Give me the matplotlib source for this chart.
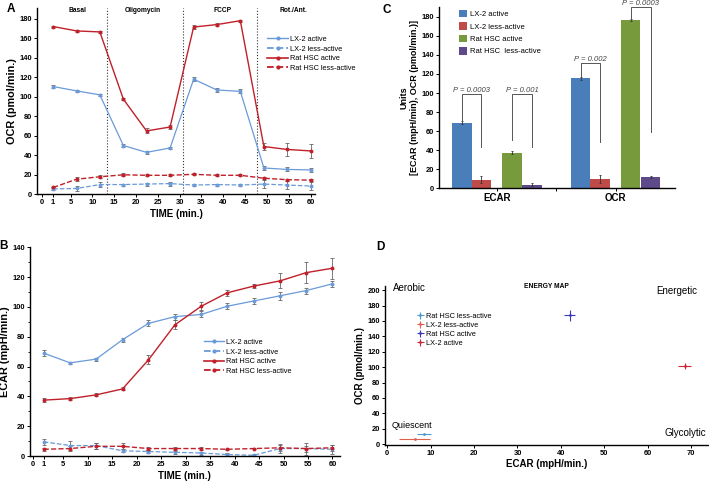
import matplotlib
matplotlib.use("Agg")
import matplotlib.pyplot as plt
from matplotlib.lines import Line2D
import numpy as np

plt.rcParams['font.family'] = ['Liberation Sans', 'DejaVu Sans']

# ---- data ----
time_min = [1, 6.4, 11.7, 17.1, 22.4, 27.8, 33.2, 38.5, 43.9, 49.3, 54.6, 60]

# panel A: OCR
ocr_lx2_active = [110.5, 106, 102, 50, 43, 47.5, 118, 107, 105.5, 27, 25.5, 25]
ocr_lx2_active_err = [2, 1, 1, 1.5, 1.5, 1.5, 2, 2, 2, 2, 2, 2]
ocr_lx2_less = [5.5, 6, 10, 10, 10.5, 11, 9.5, 10, 9.5, 10.5, 9.5, 8.5]
ocr_lx2_less_err = [1.5, 3, 2.5, 1, 1.5, 2, 1, 1, 1, 4, 4, 4]
ocr_rat_active = [172, 167.5, 166.5, 97.5, 65, 69, 171.5, 174, 178, 49, 46, 44.5]
ocr_rat_active_err = [1, 1, 1, 1, 2.5, 2.5, 2, 1.5, 1, 4, 7, 7]
ocr_rat_less = [7, 15.5, 18, 20, 19.5, 19.5, 20.5, 19.5, 19.5, 16.5, 15, 14.5]
ocr_rat_less_err = [1, 2, 1.5, 1.5, 1, 1, 1, 1, 1, 1, 1, 1]

phase_bounds = [13.4, 30.8, 47.8]
phase_names = ['Basal', 'Oligomycin', 'FCCP', 'Rot./Ant.']
phase_centers = [6.6, 21.6, 39.8, 56]

# panel B: ECAR
ecar_lx2_active = [69, 62.5, 65, 78, 89, 93.5, 95, 100.5, 104, 107.5, 111, 115.5]
ecar_lx2_active_err = [2, 0.5, 1, 1.5, 2, 2, 2, 2, 2, 2.5, 2, 2]
ecar_lx2_less = [9.5, 7, 7, 3.5, 3, 2.5, 2, 1, 0.5, 5, 5, 4.5]
ecar_lx2_less_err = [2, 3, 2, 1, 1, 1, 1, 1, 1, 3, 4, 3]
ecar_rat_active = [37.5, 38.5, 41, 45, 64.5, 88, 100.5, 109.5, 114, 117.5, 123, 126]
ecar_rat_active_err = [1.5, 1, 1, 1, 3, 3, 2.5, 2, 1.5, 5, 7, 7]
ecar_rat_less = [4.5, 5, 6.5, 6.5, 5, 5, 5, 4.5, 5, 5.5, 5, 5.5]
ecar_rat_less_err = [1, 1.5, 2, 2, 1, 1, 1, 0.5, 0.5, 2, 2, 2]

time_tick_labels = ['0', '1', '5', '10', '15', '20', '25', '30', '35', '40', '45', '50', '55', '60']
time_ticks = [0, 1, 5, 10, 15, 20, 25, 30, 35, 40, 45, 50, 55, 60]

# panel C: bars
groups = ['ECAR', 'OCR']
bar_labels = ['LX-2 active', 'LX-2 less-active', 'Rat HSC active', 'Rat HSC  less-active']
bar_values = [[69, 115.5], [9, 10], [37.5, 176.5], [4, 12]]
bar_errors = [[1.5, 1.5], [3.5, 4], [1.5, 1], [1.5, 1]]
bar_colors = ['#4A7EBB', '#BE4B48', '#779A3C', '#5E4A8A']
# brackets: group, left bar, right bar, top, left leg end, right leg end, text
brackets = [
    (0, 0, 1, 98.6, 70, 43.7, 'P = 0.0003'),
    (0, 2, 3, 98.6, 50.7, 43.7, 'P = 0.001'),
    (1, 0, 1, 131, 116.4, 49, 'P = 0.002'),
    (1, 2, 3, 190, 177, 59.4, 'P = 0.0003'),
]

# panel D: energy map
map_labels = ['Rat HSC less-active', 'LX-2 less-active', 'Rat HSC active', 'LX-2 active']
map_ecar = [8.5, 6.3, 42, 68.5]
map_ecar_err = [1.6, 3.6, 1.35, 1.4]
map_ocr = [12.6, 6, 167.5, 101.3]
map_ocr_err = [1, 0.5, 7, 3.5]
map_colors = ['#4A9AD0', '#E0604E', '#3A3AC0', '#C82838']

blue = '#6A9AD8'
red = '#C0202A'
errc = '#666666'

fig = plt.figure(figsize=(7.09, 4.83), dpi=100)


def style_ax(ax):
    for s in ['top', 'right']:
        ax.spines[s].set_visible(False)
    for s in ['left', 'bottom']:
        ax.spines[s].set_linewidth(1.0)
    ax.tick_params(labelsize=5.4, length=2, width=0.7, pad=1.5)
    for lab in ax.get_xticklabels() + ax.get_yticklabels():
        lab.set_fontweight('bold')


def time_series(ax, y, err, color, ls, lw):
    ax.errorbar(time_min, y, yerr=err, color=color, ls=ls, lw=lw, marker='o', ms=1.8,
                ecolor=errc, elinewidth=0.6, capsize=1.2, capthick=0.6)


def series_legend(ax, loc_xy):
    handles = [Line2D([], [], color=blue, ls='-', marker='o', ms=2, lw=1),
               Line2D([], [], color=blue, ls='--', marker='o', ms=2, lw=1.3),
               Line2D([], [], color=red, ls='-', marker='o', ms=2, lw=1.2),
               Line2D([], [], color=red, ls='--', marker='o', ms=2, lw=1.3)]
    names = ['LX-2 active', 'LX-2 less-active', 'Rat HSC active', 'Rat HSC less-active']
    ax.legend(handles, names, loc='upper left', bbox_to_anchor=loc_xy,
              bbox_transform=fig.transFigure, frameon=False, fontsize=5.3,
              handlelength=2.8, handletextpad=0.2, labelspacing=0.35, borderpad=0)


# ---- A ----
axA = fig.add_axes([0.0522, 0.5977, 0.392, 0.3857])
time_series(axA, ocr_lx2_active, ocr_lx2_active_err, blue, '-', 0.9)
time_series(axA, ocr_lx2_less, ocr_lx2_less_err, blue, '--', 0.9)
time_series(axA, ocr_rat_active, ocr_rat_active_err, red, '-', 1.0)
time_series(axA, ocr_rat_less, ocr_rat_less_err, red, '--', 1.0)
for xb in phase_bounds:
    axA.axvline(xb, color='#333333', ls=':', lw=0.8)
for xc, name in zip(phase_centers, phase_names):
    axA.text(xc, 188, name, ha='center', va='center', fontsize=4.8, fontweight='bold')
axA.set_xlim(-2.7, 61)
axA.set_ylim(0, 191)
# the "0" label sits a little left of its true place in the original, so 0 and 1 don't collide
axA.set_xticks([-1.6] + time_ticks[1:])
axA.set_xticklabels(time_tick_labels)
axA.set_yticks(np.arange(0, 181, 20))
axA.set_xlabel('TIME (min.)', fontsize=7, fontweight='bold', labelpad=2)
axA.set_ylabel('OCR (pmol/min.)', fontsize=7.8, fontweight='bold', labelpad=2)
style_ax(axA)
series_legend(axA, (0.372, 1 - 32 / 483))

# ---- B ----
axB = fig.add_axes([0.0423, 0.0559, 0.437, 0.432])
time_series(axB, ecar_lx2_active, ecar_lx2_active_err, blue, '-', 0.9)
time_series(axB, ecar_lx2_less, ecar_lx2_less_err, blue, '--', 0.9)
time_series(axB, ecar_rat_active, ecar_rat_active_err, red, '-', 1.0)
time_series(axB, ecar_rat_less, ecar_rat_less_err, red, '--', 1.0)
axB.set_xlim(-1.8, 61.5)
axB.set_ylim(0, 140)
axB.set_xticks([-1.2] + time_ticks[1:])
axB.set_xticklabels(time_tick_labels)
axB.set_yticks(np.arange(0, 141, 20))
axB.set_yticks(np.arange(10, 140, 20), minor=True)
axB.tick_params(which='minor', length=1.5, width=0.6)
axB.set_xlabel('TIME (min.)', fontsize=7, fontweight='bold', labelpad=2)
axB.set_ylabel('ECAR (mpH/min.)', fontsize=7.8, fontweight='bold', labelpad=2)
style_ax(axB)
series_legend(axB, (0.282, 1 - 335 / 483))

# ---- C ----
axC = fig.add_axes([0.619, 0.610, 0.333, 0.375])
offsets = [-0.296, -0.131, 0.127, 0.294]
width = 0.163
gx = np.arange(len(groups))
for k in range(4):
    axC.bar(gx + offsets[k], bar_values[k], width, yerr=bar_errors[k], color=bar_colors[k],
            label=bar_labels[k], error_kw=dict(ecolor='#333333', elinewidth=0.6, capsize=1, capthick=0.6))
for g, a, b, top, la, lb, txt in brackets:
    xa = gx[g] + offsets[a]
    xb = gx[g] + offsets[b]
    axC.plot([xa, xa, xb, xb], [la, top, top, lb], color='#555555', lw=0.7, clip_on=False)
    axC.text((xa + xb) / 2, top + 4.2, txt, ha='center', va='center', fontsize=5.5,
             style='italic', color='#444444', clip_on=False)
axC.set_xlim(-0.49, 1.5)
axC.set_ylim(0, 190)
axC.set_yticks(np.arange(0, 181, 20))
axC.set_xticks(gx)
axC.set_xticklabels(groups)
axC.set_xticks([0.5], minor=True)
axC.tick_params(axis='x', which='major', length=0)
axC.tick_params(axis='x', which='minor', length=2, width=0.7)
axC.set_ylabel('Units\n[ECAR (mpH/min), OCR (pmol/min.)]', fontsize=6.5, fontweight='bold',
               labelpad=2, linespacing=1.1)
style_ax(axC)
for lab in axC.get_xticklabels():
    lab.set_fontsize(7)
axC.legend(loc='upper left', bbox_to_anchor=(455 / 709, 1 - 6 / 483), bbox_transform=fig.transFigure,
           frameon=False, fontsize=5.5, handlelength=1.1, handleheight=1.1, handletextpad=0.4,
           labelspacing=0.55, borderpad=0)

# ---- D ----
axD = fig.add_axes([0.5432, 0.0791, 0.456, 0.328])
for i in range(4):
    axD.errorbar(map_ecar[i], map_ocr[i], xerr=map_ecar_err[i], yerr=map_ocr_err[i],
                 color=map_colors[i], marker='.', ms=2, elinewidth=0.8, capsize=0,
                 ls='none', label=map_labels[i])
axD.set_xlim(-0.5, 74)
axD.set_ylim(-1, 205)
axD.set_xticks(np.arange(0, 71, 10))
axD.set_yticks(np.arange(0, 201, 20))
axD.set_xlabel('ECAR (mpH/min.)', fontsize=7, fontweight='bold', labelpad=2)
axD.set_ylabel('OCR (pmol/min.)', fontsize=7, fontweight='bold', labelpad=2)
style_ax(axD)
axD.legend(loc='upper left', bbox_to_anchor=(413 / 709, 1 - 309 / 483), bbox_transform=fig.transFigure,
           frameon=False, fontsize=5.3, handlelength=1.0, handletextpad=0.3, labelspacing=0.25,
           borderpad=0)
fig.text(393 / 709, 1 - 288 / 483, 'Aerobic', fontsize=7, ha='left', va='center')
fig.text(697 / 709, 1 - 291 / 483, 'Energetic', fontsize=7, ha='right', va='center')
fig.text(392 / 709, 1 - 425 / 483, 'Quiescent', fontsize=6.5, ha='left', va='center')
fig.text(706 / 709, 1 - 433 / 483, 'Glycolytic', fontsize=7, ha='right', va='center')
fig.text(546 / 709, 1 - 286 / 483, 'ENERGY MAP', fontsize=4.8, fontweight='bold', ha='center', va='center')

# panel letters
for lx, ly, letter in [(11, 9, 'A'), (4, 246, 'B'), (387, 10, 'C'), (380, 247, 'D')]:
    fig.text(lx / 709, 1 - ly / 483, letter, fontsize=8.5, fontweight='bold', ha='center', va='center')

plt.savefig('out.png', dpi=100)
